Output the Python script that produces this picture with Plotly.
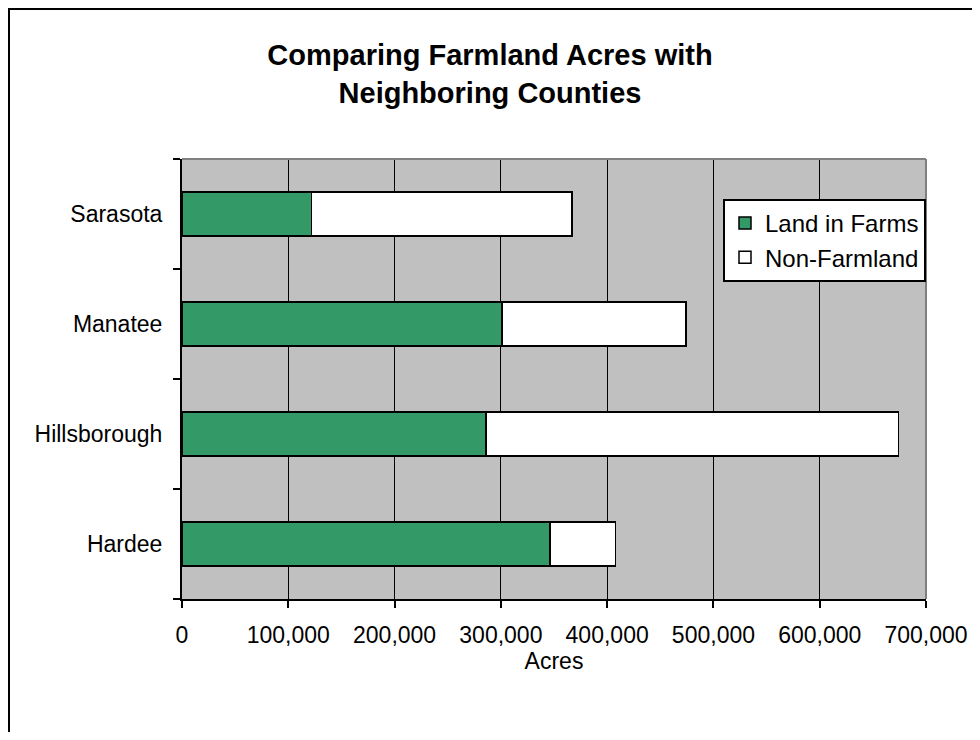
import plotly.graph_objects as go

counties = ["Hardee", "Hillsborough", "Manatee", "Sarasota"]
land_in_farms = [346000, 286000, 301000, 122000]
non_farmland = [62000, 388000, 173000, 245000]
x_ticks = [0, 100000, 200000, 300000, 400000, 500000, 600000, 700000]
x_tick_labels = ["0", "100,000", "200,000", "300,000", "400,000", "500,000", "600,000", "700,000"]

# page has an 8px body margin; figure sized to fit the 980x740 window
OFF = 8
W, H = 964, 724
L, R, T, B = 174, 46, 151, 133
pw, ph = W - L - R, H - T - B


def px_x(px):
    return (px - OFF - L) / pw


def px_y(py):
    return 1 - (py - OFF - T) / ph


FONT = "Liberation Sans, Arial, sans-serif"

fig = go.Figure()
fig.add_trace(go.Bar(
    y=counties, x=land_in_farms, orientation="h", name="Land in Farms",
    legendgroup="farms",
    marker=dict(color="#339966", line=dict(color="black", width=1.5)),
    width=0.4,
))
fig.add_trace(go.Bar(
    y=counties, x=non_farmland, orientation="h", name="Non-Farmland",
    legendgroup="non",
    marker=dict(color="white", line=dict(color="black", width=1.5)),
    width=0.4,
))

fig.update_layout(
    width=W, height=H,
    margin=dict(l=L, r=R, t=T, b=B, pad=0, autoexpand=False),
    barmode="stack",
    paper_bgcolor="white",
    plot_bgcolor="#C0C0C0",
    font=dict(family=FONT, size=23, color="black"),
    title=dict(
        text="<b>Comparing Farmland Acres with<br>Neighboring Counties</b>",
        font=dict(family=FONT, size=29, color="black"),
        x=0.5, xref="container", xanchor="center",
        y=1 - 57 / H, yref="container", yanchor="top",
    ),
    xaxis=dict(
        range=[0, 700000], tickvals=x_ticks, ticktext=x_tick_labels,
        showgrid=True, gridcolor="black", gridwidth=1,
        showline=True, linecolor="black", linewidth=2,
        ticks="outside", ticklen=7, tickwidth=2, tickcolor="black",
        ticklabelstandoff=7,
        title=dict(text="Acres", font=dict(size=23), standoff=2),
        zeroline=False, fixedrange=True, automargin=False,
    ),
    yaxis=dict(
        categoryorder="array", categoryarray=counties,
        showline=True, linecolor="black", linewidth=2,
        ticks="outside", ticklen=7, tickwidth=2, tickcolor="black",
        tickson="boundaries", showgrid=False,
        ticklabelstandoff=13,
        fixedrange=True, automargin=False,
    ),
    legend=dict(
        x=px_x(723), y=px_y(199), xanchor="left", yanchor="top",
        bgcolor="white", bordercolor="black", borderwidth=2,
        font=dict(size=24), traceorder="grouped", tracegroupgap=0,
    ),
    showlegend=True,
    shapes=[
        # gray plot-area border on top and right
        dict(type="line", xref="paper", yref="paper", x0=0, x1=1, y0=1, y1=1,
             line=dict(color="#808080", width=2)),
        dict(type="line", xref="paper", yref="paper", x0=1, x1=1, y0=0, y1=1,
             line=dict(color="#808080", width=2)),
        # outer chart frame (extends beyond canvas on right and bottom)
        dict(type="rect", xref="paper", yref="paper",
             x0=px_x(OFF + 1), x1=px_x(1100), y0=px_y(900), y1=px_y(OFF + 1),
             line=dict(color="black", width=2), fillcolor="rgba(0,0,0,0)", layer="above"),
    ],
)

fig.write_html("out.html")
